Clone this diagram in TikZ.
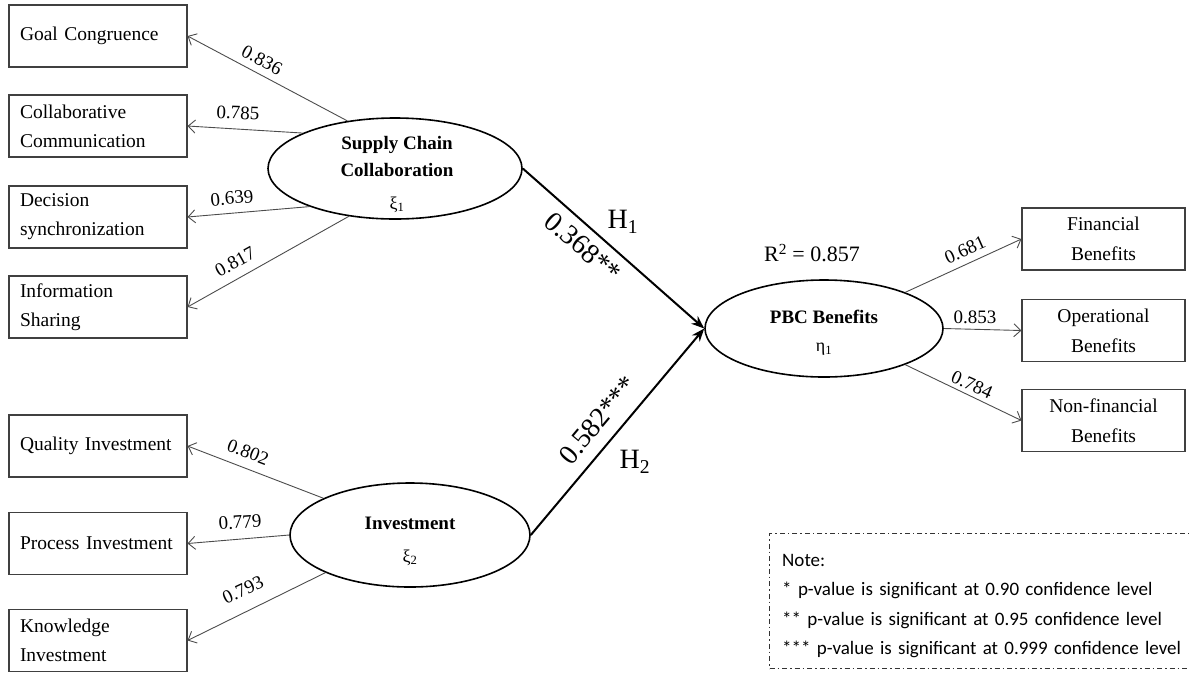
\documentclass[tikz,border=0pt]{standalone}
\usepackage{fontspec}
\setmainfont{Liberation Serif}
\newfontfamily\notefont{Carlito}
\usetikzlibrary{arrows.meta,shapes.geometric}
\begin{document}
\begin{tikzpicture}[x=1pt,y=-1pt,
  lbox/.style={draw=black!75, line width=1.1pt, minimum height=62pt, text width=156pt, inner xsep=11pt, inner ysep=0pt, align=left, font=\fontsize{19.5}{29}\selectfont},
  rbox/.style={draw=black!75, line width=1.1pt, minimum height=62pt, text width=139pt, inner xsep=12pt, inner ysep=0pt, align=center, font=\fontsize{19.5}{30}\selectfont},
  latent/.style={ellipse, draw, line width=1.6pt, inner sep=0pt},
  ltext/.style={align=center, inner sep=0pt, font=\fontsize{19}{27}\selectfont},
  load/.style={draw=black!70, line width=0.9pt, -{Straight Barb[length=7pt,width=13pt]}},
  hyp/.style={draw, line width=2pt, -{Stealth[length=13pt,width=10pt]}},
  lab/.style={font=\fontsize{19}{20}\selectfont, inner sep=0pt},
  plab/.style={font=\fontsize{28}{30}\selectfont, inner sep=0pt},
]
\useasboundingbox (0,0) rectangle (1190,673);
\clip (0,0) rectangle (1190,673);

% indicator boxes
\node[lbox] (goal) at (98,36) {Goal Congruence};
\node[lbox] (comm) at (98,126) {Collaborative\\Communication};
\node[lbox] (dec) at (98,217) {Decision\\synchronization};
\node[lbox] (info) at (98,307) {Information\\Sharing};
\node[lbox] (qual) at (98,446) {Quality Investment};
\node[lbox] (proc) at (98,543.5) {Process Investment};
\node[lbox] (know) at (98,640.5) {Knowledge\\Investment};

\node[rbox] (fin) at (1103.5,239) {Financial\\Benefits};
\node[rbox] (ope) at (1103.5,330.5) {Operational\\Benefits};
\node[rbox] (non) at (1103.5,420.5) {Non-financial\\Benefits};

% latent variables
\node[latent, minimum width=254pt, minimum height=101pt] (scc) at (395,168.5) {};
\node[ltext] (scct) at (397,174) {\textbf{Supply Chain}\\\textbf{Collaboration}\\[6pt]{\fontsize{18}{20}\selectfont ξ\textsubscript{1}}};
\node[latent, minimum width=240pt, minimum height=104pt] (inv) at (410,535) {};
\node[ltext] (invt) at (410,541) {\textbf{Investment}\\[6pt]{\fontsize{18}{20}\selectfont ξ\textsubscript{2}}};
\node[latent, minimum width=238pt, minimum height=97pt] (pbc) at (824,328.5) {};
\node[ltext] (pbct) at (824,333) {\textbf{PBC Benefits}\\[1pt]{\fontsize{18}{20}\selectfont η\textsubscript{1}}};

% loadings
\draw[load] (scc.135) -- (goal.east);
\draw[load] (scc.159) -- (comm.east);
\draw[load] (scc.204) -- (dec.east);
\draw[load] (scc.226) -- (info.east);
\draw[load] (inv.157) -- (qual.east);
\draw[load] (inv.west) -- (proc.east);
\draw[load] (inv.204) -- (know.east);
\draw[load] (pbc.24) -- (fin.west);
\draw[load] (pbc.east) -- (ope.west);
\draw[load] (pbc.-24) -- (non.west);

% structural paths
\draw[hyp] (scc.east) -- (pbc.west);
\draw[hyp] (inv.east) -- (pbc.west);

% loading labels
\node[lab, rotate=-28] (l1) at (262,60) {0.836};
\node[lab, rotate=-2] (l2) at (238,113) {0.785};
\node[lab, rotate=5] (l3) at (232,198) {0.639};
\node[lab, rotate=29] (l4) at (235,262) {0.817};
\node[lab, rotate=-21] (l5) at (248,452) {0.802};
\node[lab, rotate=4] (l6) at (240,522) {0.779};
\node[lab, rotate=25] (l7) at (243,590) {0.793};
\node[lab, rotate=24] (l8) at (965,250) {0.681};
\node[lab] (l9) at (975,317) {0.853};
\node[lab, rotate=-24] (l10) at (972,385) {0.784};

% path labels
\node[plab, rotate=-41] (p1) at (583,247) {0.368**};
\node[plab] (h1) at (623,222) {H\textsubscript{1}};
\node[plab, rotate=50] (p2) at (598,420) {0.582***};
\node[plab] (h2) at (635,462) {H\textsubscript{2}};
\node[font=\fontsize{22}{24}\selectfont, inner sep=0pt] (r2) at (812,253) {R\textsuperscript{2} = 0.857};

% note
\node[draw=black!80, line width=1pt, dash pattern=on 5pt off 3pt on 1.5pt off 3pt,
      anchor=north west, minimum width=440pt, minimum height=135pt, inner sep=0pt] (note) at (769,533) {};
\node[anchor=west, text width=414pt, inner sep=0pt, align=left, yshift=-5pt,
      font=\notefont\fontsize{19}{29.5}\selectfont] (notetext) at ([xshift=13pt]note.west)
  {Note:\\[0pt]
   {*} p-value is significant at 0.90 confidence level\\[0pt]
   {**} p-value is significant at 0.95 confidence level\\[0pt]
   {***} p-value is significant at 0.999 confidence level};
\end{tikzpicture}
\end{document}
